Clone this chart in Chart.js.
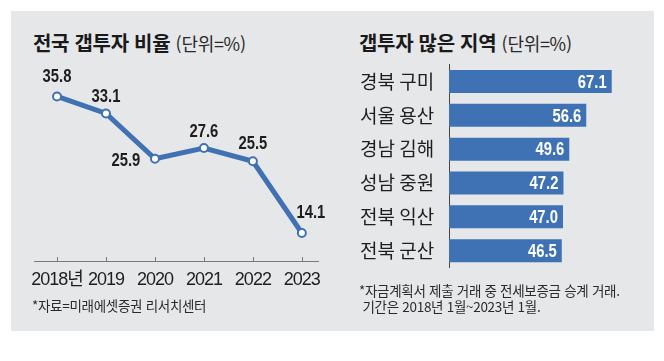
<!DOCTYPE html>
<html lang="ko">
<head>
<meta charset="utf-8">
<script src="https://cdn.jsdelivr.net/npm/chart.js@4.4.1/dist/chart.umd.min.js"></script>
<style>
    body {
        margin: 0;
        width: 664px;
        height: 361px;
        background: #ffffff;
        position: relative;
        overflow: hidden;
        font-family: "Noto Sans CJK KR", sans-serif;
    }
    #panel {
        position: absolute;
        left: 11px;
        top: 11px;
        width: 643px;
        height: 320px;
        background: #e6e7e9;
    }
    canvas {
        position: absolute;
        top: 0;
    }
    .title {
        position: absolute;
        font-size: 20px;
        font-weight: bold;
        color: #1a1a1a;
        line-height: 24px;
        white-space: nowrap;
        letter-spacing: -0.3px;
    }
    .title span {
        font-weight: normal;
        font-size: 18px;
        color: #2a2a2a;
    }
    .note {
        position: absolute;
        font-size: 13.5px;
        color: #2a2a2a;
        line-height: 16px;
        white-space: nowrap;
        letter-spacing: -0.3px;
    }
</style>
</head>
<body>
<div id="panel"></div>

<div class="title" style="left:33px; top:31px;">전국 갭투자 비율 <span>(단위=%)</span></div>
<div class="title" style="left:359px; top:31px;">갭투자 많은 지역 <span>(단위=%)</span></div>

<canvas id="lineChart" width="340" height="361" style="left:0;"></canvas>
<canvas id="barChart" width="332" height="361" style="left:332px;"></canvas>

<div class="note" style="left:32px; top:297px;">*자료=미래에셋증권 리서치센터</div>
<div class="note" style="left:359px; top:282px;">*자금계획서 제출 거래 중 전세보증금 승계 거래.<br>&nbsp;기간은 2018년 1월~2023년 1월.</div>

<script>
    const years = ["2018년", "2019", "2020", "2021", "2022", "2023"];
    const gapRates = [35.8, 33.1, 25.9, 27.6, 25.5, 14.1];

    const regions = ["경북 구미", "서울 용산", "경남 김해", "성남 중원", "전북 익산", "전북 군산"];
    const regionRates = [67.1, 56.6, 49.6, 47.2, 47.0, 46.5];

    const blue = "#3f71b3";

    // numbers in the source use a narrow face, so squeeze Liberation Sans sideways
    function drawNarrow(ctx, text, x, y, align) {
        const squeeze = 0.78;
        ctx.save();
        ctx.font = "bold 19px \"Liberation Sans\", sans-serif";
        ctx.textAlign = align;
        ctx.textBaseline = "middle";
        ctx.scale(squeeze, 1);
        ctx.fillText(text, x / squeeze, y);
        ctx.restore();
    }

    const tightText = {
        id: "tightText",
        beforeDraw(chart) {
            chart.ctx.letterSpacing = "-1px";
        }
    };

    /* Line chart: national gap investment ratio */

    // where each value label sits relative to its point
    const labelShift = [[0, -20], [0, -17], [-29, 2], [0, -16], [0, -17], [9, -20]];

    const pointLabels = {
        id: "pointLabels",
        afterDatasetsDraw(chart) {
            const ctx = chart.ctx;
            const meta = chart.getDatasetMeta(0);
            ctx.save();
            ctx.letterSpacing = "0px";
            ctx.fillStyle = "#1e1e1e";
            meta.data.forEach((pt, i) => {
                drawNarrow(ctx, gapRates[i].toFixed(1), pt.x + labelShift[i][0], pt.y + labelShift[i][1], "center");
            });
            ctx.restore();
        }
    };

    const tickMarks = {
        id: "tickMarks",
        afterDraw(chart) {
            const ctx = chart.ctx;
            const xScale = chart.scales.x;
            const bottom = chart.chartArea.bottom;
            ctx.save();
            ctx.strokeStyle = "#7a7a7a";
            ctx.lineWidth = 1;
            years.forEach((_, i) => {
                const px = Math.round(xScale.getPixelForValue(i)) + 0.5;
                ctx.beginPath();
                ctx.moveTo(px, bottom - 4);
                ctx.lineTo(px, bottom);
                ctx.stroke();
            });
            ctx.restore();
        }
    };

    new Chart(document.getElementById("lineChart"), {
        type: "line",
        data: {
            datasets: [{
                data: gapRates.map((v, i) => ({ x: i, y: v })),
                borderColor: blue,
                borderWidth: 5,
                pointRadius: 4,
                pointBorderWidth: 2,
                pointBackgroundColor: "#ffffff",
                pointBorderColor: blue,
                tension: 0
            }]
        },
        options: {
            responsive: false,
            animation: false,
            layout: { padding: { left: 34, right: 22, top: 70, bottom: 0 } },
            plugins: {
                legend: { display: false },
                tooltip: { enabled: false }
            },
            scales: {
                x: {
                    type: "linear",
                    min: -0.47,
                    max: 5.33,
                    afterBuildTicks: axis => {
                        axis.ticks = years.map((_, i) => ({ value: i }));
                    },
                    afterFit: axis => {
                        axis.height = 100;
                    },
                    ticks: {
                        callback: v => years[v],
                        autoSkip: false,
                        maxRotation: 0,
                        padding: 8,
                        color: "#1e1e1e",
                        font: { family: "\"Liberation Sans\", \"Noto Sans CJK KR\", sans-serif", size: 18 }
                    },
                    grid: { display: false, drawTicks: false },
                    border: { color: "#7a7a7a", width: 1 }
                },
                y: {
                    display: false,
                    min: 9.65,
                    max: 40
                }
            }
        },
        plugins: [tightText, pointLabels, tickMarks]
    });

    /* Bar chart: regions with most gap investment */

    const barLabels = {
        id: "barLabels",
        afterDatasetsDraw(chart) {
            const ctx = chart.ctx;
            const meta = chart.getDatasetMeta(0);
            ctx.save();
            ctx.fillStyle = "#ffffff";
            meta.data.forEach((bar, i) => {
                drawNarrow(ctx, regionRates[i].toFixed(1), bar.x - 5, bar.y + 1, "right");
            });
            ctx.restore();
        }
    };

    new Chart(document.getElementById("barChart"), {
        type: "bar",
        data: {
            labels: regions,
            datasets: [{
                data: regionRates,
                backgroundColor: "#3e72b4",
                barPercentage: 0.68,
                categoryPercentage: 1
            }]
        },
        options: {
            indexAxis: "y",
            responsive: false,
            animation: false,
            layout: { padding: { left: 28, right: 21, top: 64.6, bottom: 93.4 } },
            plugins: {
                legend: { display: false },
                tooltip: { enabled: false }
            },
            scales: {
                x: {
                    display: false,
                    min: 0,
                    max: 80
                },
                y: {
                    afterFit: axis => {
                        axis.width = 89;
                    },
                    ticks: {
                        crossAlign: "far",
                        color: "#1e1e1e",
                        font: { family: "\"Noto Sans CJK KR\", sans-serif", size: 19 }
                    },
                    grid: { display: false, drawTicks: false },
                    border: { color: "#444444", width: 1 }
                }
            }
        },
        plugins: [barLabels]
    });
</script>
</body>
</html>
